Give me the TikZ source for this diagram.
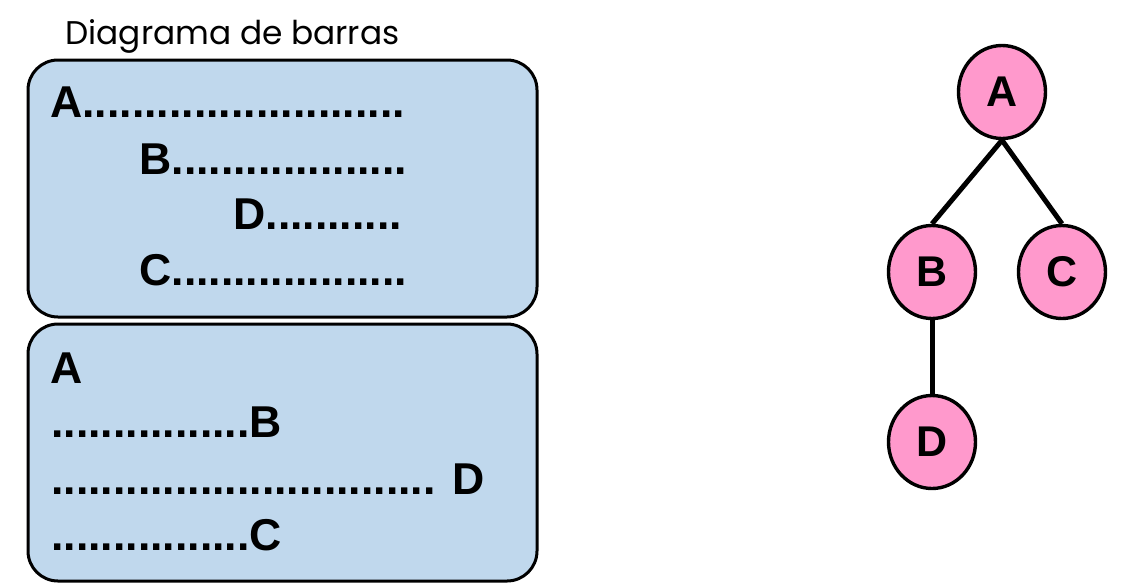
\documentclass[tikz,border=0pt]{standalone}
\usepackage{fontspec}
\setmainfont{Liberation Sans}
\newfontfamily\titlefont{Poppins}
\usetikzlibrary{shapes.geometric}
\ExplSyntaxOn
\cs_new:Npn \repdots #1 {\prg_replicate:nn{#1}{.}}
\ExplSyntaxOff
\definecolor{boxblue}{RGB}{192,216,237}
\definecolor{nodepink}{RGB}{255,153,204}
\begin{document}
\begin{tikzpicture}[x=0.5pt,y=-0.5pt,
  panel/.style={draw=black, line width=1.5pt, fill=boxblue, rounded corners=15pt,
    minimum width=254.5pt, minimum height=128.5pt, inner sep=0pt},
  lab/.style={anchor=base west, inner sep=0pt, font=\fontsize{22.3}{26}\selectfont\bfseries},
  tnode/.style={ellipse, draw=black, line width=1.7pt, fill=nodepink,
    minimum width=43.5pt, minimum height=46.5pt, inner sep=0pt,
    font=\fontsize{21.5}{25}\selectfont\bfseries},
  edge/.style={line width=2.5pt}]
\useasboundingbox (0,0) rectangle (1136,585);
% title
\node[anchor=base west, inner sep=0pt, font=\titlefont\fontsize{16.4}{19}\selectfont] (title) at (65,44) {Diagrama de barras};
% panels
\node[panel] (toppanel) at (282.5,188.5) {};
\node[panel] (botpanel) at (282.5,452.5) {};
% top panel text
\node[lab] (ta) at (50,117) {A\repdots{26}};
\node[lab] (tb) at (139,174) {B\repdots{19}};
\node[lab] (td) at (233,229) {D\repdots{11}};
\node[lab] (tc) at (139,285) {C\repdots{19}};
% bottom panel text
\node[lab] (ba) at (50,383) {A};
\node[lab] (bb) at (51,437) {\repdots{16}B};
\node[lab] (bd) at (51,494) {\repdots{31} D};
\node[lab] (bc) at (51,550) {\repdots{16}C};
% tree
\node[tnode] (A) at (1002,92) {A};
\node[tnode] (B) at (932,272) {B};
\node[tnode] (C) at (1062,272) {C};
\node[tnode] (D) at (932,442) {D};
\draw[edge] (A.south) -- (B.north);
\draw[edge] (A.south) -- (C.north);
\draw[edge] (B.south) -- (D.north);
\end{tikzpicture}
\end{document}
